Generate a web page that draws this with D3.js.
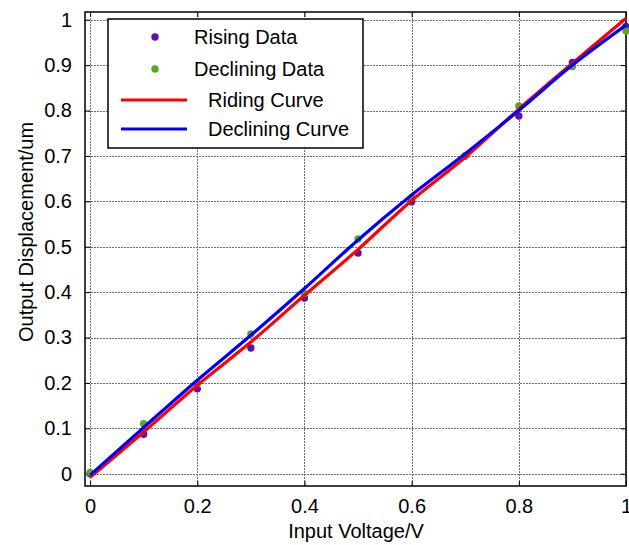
<!DOCTYPE html>
<html>
<head>
<meta charset="utf-8">
<script src="https://cdn.jsdelivr.net/npm/d3@7"></script>
<style>
  body { margin: 0; background: #fff; }
  svg { display: block; font-family: "Liberation Sans", Arial, sans-serif; }
</style>
</head>
<body>
<svg id="chart" width="629" height="545"></svg>
<script>
// input voltage steps
var voltage = [0, 0.1, 0.2, 0.3, 0.4, 0.5, 0.6, 0.7, 0.8, 0.9, 1.0];
var risingData = [0.0, 0.087, 0.187, 0.277, 0.387, 0.486, 0.599, 0.700, 0.788, 0.906, 0.985];
var decliningData = [0.003, 0.110, 0.199, 0.308, 0.397, 0.517, 0.608, 0.700, 0.810, 0.897, 0.975];
var ridingCurve = [-0.008, 0.092, 0.195, 0.290, 0.393, 0.494, 0.602, 0.697, 0.803, 0.904, 1.003];
var decliningCurve = [-0.003, 0.102, 0.206, 0.305, 0.408, 0.515, 0.614, 0.705, 0.800, 0.900, 0.988];
var xTicks = [0, 0.2, 0.4, 0.6, 0.8, 1];
var yTicks = [0, 0.1, 0.2, 0.3, 0.4, 0.5, 0.6, 0.7, 0.8, 0.9, 1];

const box = { left: 85, right: 626, top: 12, bottom: 486 };
const svg = d3.select('#chart');

const x = d3.scaleLinear().domain([-0.0095, 1]).range([box.left, box.right]);
const y = d3.scaleLinear().domain([-0.027, 1.017]).range([box.bottom, box.top]);

// grid
const grid = svg.append('g')
    .attr('stroke', '#6e6e6e')
    .attr('stroke-width', 1)
    .attr('stroke-dasharray', '2,1');
grid.selectAll('.gx').data(xTicks).join('line')
    .attr('x1', d => Math.round(x(d)) + 0.5).attr('x2', d => Math.round(x(d)) + 0.5)
    .attr('y1', box.top).attr('y2', box.bottom);
grid.selectAll('.gy').data(yTicks).join('line')
    .attr('y1', d => Math.round(y(d)) + 0.5).attr('y2', d => Math.round(y(d)) + 0.5)
    .attr('x1', box.left).attr('x2', box.right);

// axes (ticks inward on all four sides)
const tickLen = -5;
svg.append('g')
    .attr('transform', `translate(0,${box.bottom})`)
    .call(d3.axisBottom(x).tickValues(xTicks).tickSize(tickLen).tickPadding(13).tickFormat(d3.format('')))
    .call(g => g.select('.domain').remove());
svg.append('g')
    .attr('transform', `translate(0,${box.top})`)
    .call(d3.axisTop(x).tickValues(xTicks).tickSize(tickLen).tickFormat(''))
    .call(g => g.select('.domain').remove());
svg.append('g')
    .attr('transform', `translate(${box.left},0)`)
    .call(d3.axisLeft(y).tickValues(yTicks).tickSize(tickLen).tickPadding(13).tickFormat(d3.format('')))
    .call(g => g.select('.domain').remove());
svg.append('g')
    .attr('transform', `translate(${box.right},0)`)
    .call(d3.axisRight(y).tickValues(yTicks).tickSize(tickLen).tickFormat(''))
    .call(g => g.select('.domain').remove());

svg.selectAll('.tick text')
    .attr('font-size', 20)
    .attr('fill', '#000')
    .attr('font-family', '"Liberation Sans", Arial, sans-serif');
svg.selectAll('.tick line').attr('stroke', '#000');

svg.append('rect')
    .attr('x', box.left).attr('y', box.top)
    .attr('width', box.right - box.left).attr('height', box.bottom - box.top)
    .attr('fill', 'none').attr('stroke', '#000').attr('stroke-width', 1.5);

// data points
const pts = svg.append('g');
pts.selectAll('.rise').data(voltage).join('circle')
    .attr('cx', d => x(d)).attr('cy', (d, i) => y(risingData[i]))
    .attr('r', 3.7).attr('fill', '#5b14a0');
pts.selectAll('.decl').data(voltage).join('circle')
    .attr('cx', d => x(d)).attr('cy', (d, i) => y(decliningData[i]))
    .attr('r', 3.7).attr('fill', '#5aa81e');

// fitted curves
const line = d3.line().x(d => x(d[0])).y(d => y(d[1])).curve(d3.curveMonotoneX);
svg.append('path')
    .datum(d3.zip(voltage, ridingCurve))
    .attr('d', line).attr('fill', 'none').attr('stroke', '#ff0000').attr('stroke-width', 3.2);
svg.append('path')
    .datum(d3.zip(voltage, decliningCurve))
    .attr('d', line).attr('fill', 'none').attr('stroke', '#0000ff').attr('stroke-width', 3.2);

// axis labels
svg.append('text')
    .attr('x', 356).attr('y', 538)
    .attr('text-anchor', 'middle').attr('font-size', 20)
    .text('Input Voltage/V');
svg.append('text')
    .attr('transform', 'translate(33,232) rotate(-90)')
    .attr('text-anchor', 'middle').attr('font-size', 20)
    .text('Output Displacement/um');

// legend
const legend = svg.append('g');
legend.append('rect')
    .attr('x', 108).attr('y', 19).attr('width', 255).attr('height', 129)
    .attr('fill', '#fff').attr('stroke', '#000').attr('stroke-width', 1.5);
const entries = [
    { label: 'Rising Data', type: 'dot', color: '#5b14a0', cy: 37, tx: 194 },
    { label: 'Declining Data', type: 'dot', color: '#5aa81e', cy: 69, tx: 194 },
    { label: 'Riding Curve', type: 'line', color: '#ff0000', cy: 100, tx: 208 },
    { label: 'Declining Curve', type: 'line', color: '#0000ff', cy: 129, tx: 208 }
];
entries.forEach(e => {
    if (e.type === 'dot') {
        legend.append('circle').attr('cx', 155).attr('cy', e.cy).attr('r', 3.7).attr('fill', e.color);
    } else {
        legend.append('line').attr('x1', 121).attr('x2', 187).attr('y1', e.cy).attr('y2', e.cy)
            .attr('stroke', e.color).attr('stroke-width', 3.2);
    }
    legend.append('text')
        .attr('x', e.tx).attr('y', e.cy).attr('dy', '0.35em')
        .attr('font-size', 20).text(e.label);
});
</script>
</body>
</html>
